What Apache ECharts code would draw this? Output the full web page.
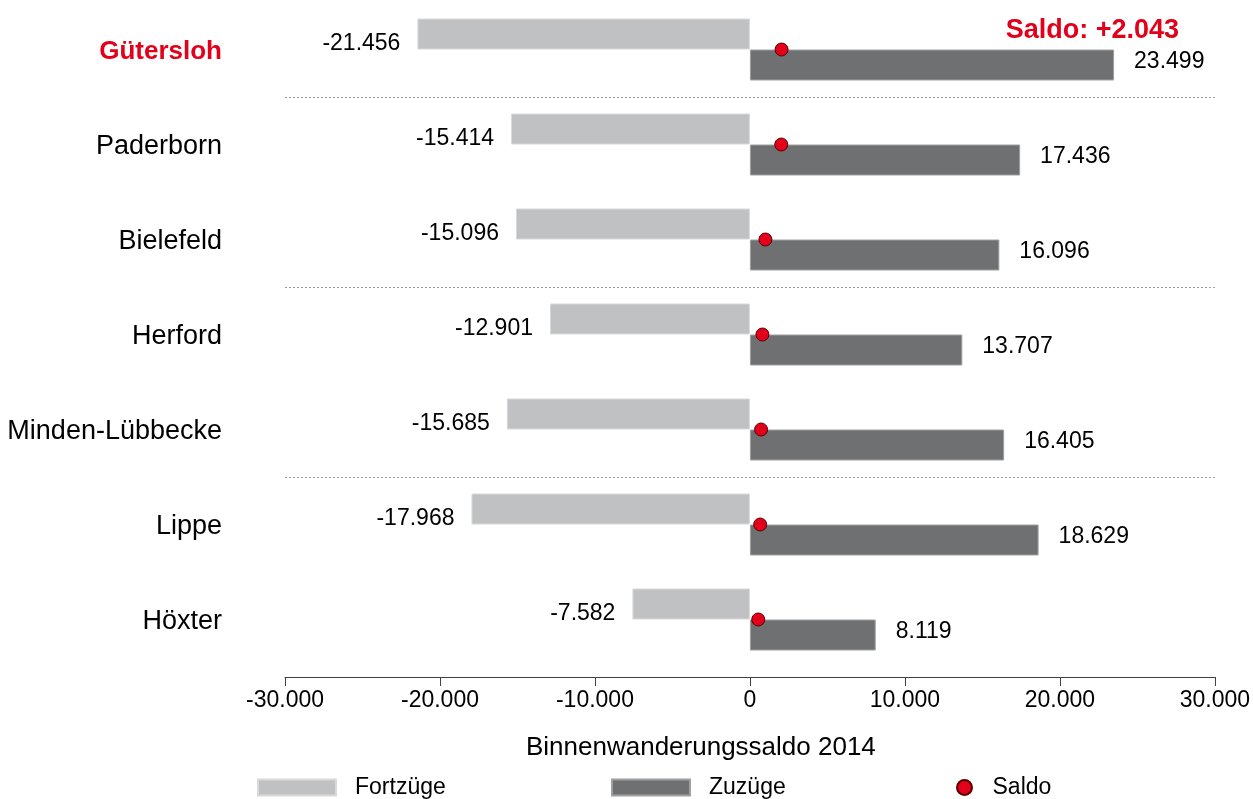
<!DOCTYPE html>
<html lang="de" style="height: 100%">
<head>
    <meta charset="utf-8">
    <title>Binnenwanderungssaldo 2014</title>
    <script src="https://cdn.jsdelivr.net/npm/echarts@6/dist/echarts.min.js"></script>
</head>
<body style="height: 100%; margin: 0; background: #fff;">
<div id="container" style="width: 1253px; height: 799px;"></div>
<script type="text/javascript">
    // Kreise, von oben nach unten
    var kreise = ['Gütersloh', 'Paderborn', 'Bielefeld', 'Herford', 'Minden-Lübbecke', 'Lippe', 'Höxter'];
    var fortzuege = [-21456, -15414, -15096, -12901, -15685, -17968, -7582];
    var zuzuege = [23499, 17436, 16096, 13707, 16405, 18629, 8119];
    var saldo = [2043, 2022, 1000, 806, 720, 661, 537];
    var trennlinien = [1, 3, 5];   // Trennlinie nach diesen Kreisen

    var FONT = 'Liberation Sans, Arial, sans-serif';
    var ROT = '#e2001a';

    // 23499 -> 23.499
    function fmt(v) {
        var s = String(Math.abs(Math.round(v)));
        s = s.replace(/\B(?=(\d{3})+(?!\d))/g, '.');
        return (v < 0 ? '-' : '') + s;
    }

    var dom = document.getElementById('container');
    var myChart = echarts.init(dom, null, {renderer: 'canvas'});

    var option = {
        animation: false,
        textStyle: {fontFamily: FONT},
        title: [{
            text: 'Saldo: ' + (saldo[0] > 0 ? '+' : '') + fmt(saldo[0]),
            right: 69,
            top: 12,
            textStyle: {color: ROT, fontSize: 27, fontWeight: 'bold', fontFamily: FONT}
        }],
        legend: [{
            data: [{name: 'Fortzüge', icon: 'rect'}],
            left: 252, top: 771,
            itemWidth: 78, itemHeight: 16,
            textStyle: {fontSize: 23, color: '#000', padding: [0, 0, 0, 14], fontFamily: FONT},
            selectedMode: false
        }, {
            data: [{name: 'Zuzüge', icon: 'rect'}],
            left: 606, top: 771,
            itemWidth: 78, itemHeight: 16,
            textStyle: {fontSize: 23, color: '#000', padding: [0, 0, 0, 14], fontFamily: FONT},
            selectedMode: false
        }, {
            data: [{name: 'Saldo', icon: 'circle'}],
            left: 951, top: 771,
            itemWidth: 18, itemHeight: 15,
            textStyle: {fontSize: 23, color: '#000', padding: [0, 0, 0, 14], fontFamily: FONT},
            selectedMode: false
        }],
        grid: {left: 285, right: 38, top: 2, bottom: 132, containLabel: false},
        xAxis: {
            type: 'value',
            min: -30000, max: 30000, interval: 10000,
            offset: 10,
            name: 'Binnenwanderungssaldo 2014',
            nameLocation: 'middle',
            nameGap: 58,
            nameTextStyle: {fontSize: 26, color: '#000', padding: [0, 98, 0, 0], fontFamily: FONT},
            axisLine: {onZero: false, lineStyle: {color: '#404040', width: 1}},
            axisTick: {show: true, length: 9, lineStyle: {color: '#404040'}},
            axisLabel: {
                fontSize: 23, color: '#000', margin: 12, fontFamily: FONT,
                formatter: function (v) { return fmt(v); }
            },
            splitLine: {show: false}
        },
        yAxis: [{
            type: 'category',
            data: kreise,
            inverse: true,
            axisLine: {show: false},
            axisTick: {show: false},
            axisLabel: {
                fontSize: 27, color: '#000', margin: 63, fontFamily: FONT,
                padding: [5, 0, 0, 0],
                formatter: function (v, i) {
                    return i === 0 ? '{hl|' + v + '}' : v;
                },
                rich: {
                    hl: {color: ROT, fontWeight: 'bold', fontSize: 26, fontFamily: FONT}
                }
            }
        }, {
            type: 'value',
            min: 0, max: 7,
            inverse: true,
            show: false
        }],
        series: [{
            name: 'Fortzüge',
            type: 'bar',
            data: fortzuege,
            barWidth: 31,
            barGap: '0%',
            itemStyle: {color: '#c0c1c3', borderColor: '#d9d9d9', borderWidth: 1},
            label: {
                show: true,
                position: 'left',
                distance: 17,
                offset: [0, 10],
                fontSize: 23, color: '#000', fontFamily: FONT,
                formatter: function (p) { return fmt(p.value); }
            }
        }, {
            name: 'Zuzüge',
            type: 'bar',
            data: zuzuege,
            barWidth: 31,
            barGap: '0%',
            itemStyle: {color: '#6f7072', borderColor: '#a0a0a0', borderWidth: 1},
            label: {
                show: true,
                position: 'right',
                distance: 20,
                offset: [0, -3],
                fontSize: 23, color: '#000', fontFamily: FONT,
                formatter: function (p) { return fmt(p.value); }
            }
        }, {
            name: 'Saldo',
            type: 'scatter',
            data: saldo.map(function (v, i) { return [v, kreise[i]]; }),
            symbol: 'circle',
            symbolSize: 13,
            z: 5,
            itemStyle: {color: ROT, borderColor: '#5a0000', borderWidth: 1, opacity: 1}
        }, {
            name: 'trenner',
            type: 'scatter',
            yAxisIndex: 1,
            data: [[0, 0]],
            symbolSize: 0,
            silent: true,
            markLine: {
                silent: true,
                symbol: ['none', 'none'],
                label: {show: false},
                lineStyle: {color: '#9a9a9a', type: [2, 2], width: 1},
                data: trennlinien.map(function (v) { return {yAxis: v}; })
            }
        }]
    };

    myChart.setOption(option);
    window.addEventListener('resize', myChart.resize);
</script>
</body>
</html>
